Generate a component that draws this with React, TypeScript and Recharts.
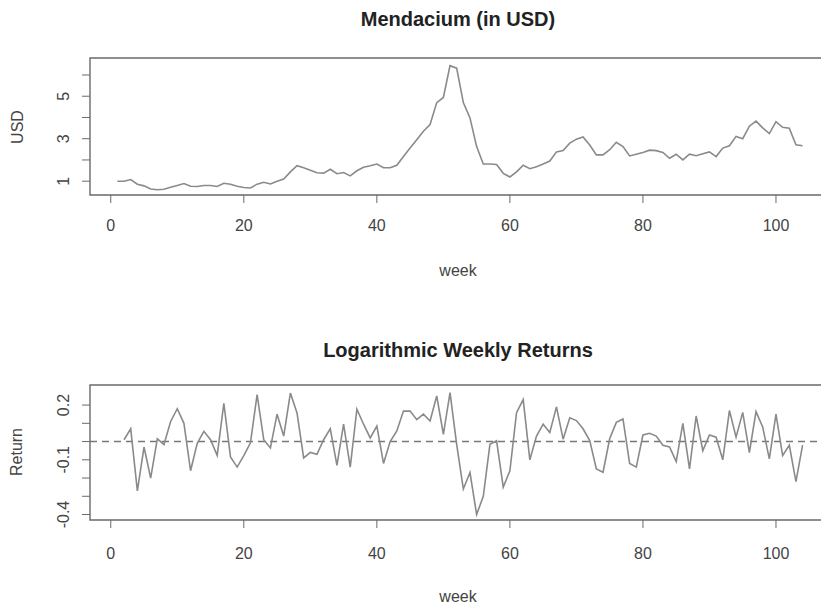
import React from "react";
import { LineChart, Line, XAxis, YAxis, ReferenceArea, ReferenceLine } from "recharts";

// weekly closing price in USD, weeks 1..104
const usd = [
  1.0, 1.0, 1.08, 0.86, 0.78, 0.63, 0.6, 0.62, 0.71, 0.8,
  0.89, 0.76, 0.75, 0.8, 0.8, 0.75, 0.9, 0.86, 0.76, 0.7,
  0.68, 0.86, 0.95, 0.87, 1.0, 1.1, 1.44, 1.73, 1.63, 1.52,
  1.4, 1.38, 1.56, 1.35, 1.41, 1.25, 1.49, 1.66, 1.73, 1.81,
  1.63, 1.63, 1.75, 2.16, 2.56, 2.95, 3.35, 3.67, 4.7, 4.94,
  6.44, 6.32, 4.7, 3.98, 2.63, 1.81, 1.81, 1.79, 1.37, 1.2,
  1.44, 1.75, 1.59, 1.68, 1.81, 1.95, 2.38, 2.44, 2.79, 2.98,
  3.08, 2.7, 2.24, 2.24, 2.48, 2.83, 2.63, 2.19, 2.27, 2.35,
  2.46, 2.44, 2.35, 2.08, 2.27, 2.0, 2.27, 2.2, 2.29, 2.38,
  2.16, 2.56, 2.67, 3.11, 3.0, 3.59, 3.83, 3.51, 3.24, 3.8,
  3.54, 3.49, 2.71, 2.67,
];

// log weekly returns, weeks 2..104
const returns = [
  0.01, 0.07, -0.27, -0.03, -0.2, 0.015, -0.016, 0.11, 0.18, 0.1,
  -0.16, -0.01, 0.056, 0.01, -0.076, 0.21, -0.084, -0.14, -0.077, -0.007,
  0.257, 0.01, -0.035, 0.15, 0.03, 0.266, 0.157, -0.09, -0.06, -0.07,
  0.01, 0.07, -0.13, 0.095, -0.14, 0.177, 0.095, 0.02, 0.085, -0.12,
  0.0, 0.058, 0.167, 0.167, 0.12, 0.15, 0.113, 0.25, 0.04, 0.268,
  -0.015, -0.26, -0.17, -0.4, -0.3, -0.015, 0.004, -0.25, -0.16, 0.158,
  0.23, -0.1, 0.03, 0.095, 0.05, 0.19, 0.013, 0.13, 0.115, 0.07,
  0.005, -0.15, -0.168, 0.015, 0.105, 0.124, -0.12, -0.14, 0.036, 0.045,
  0.03, -0.02, -0.03, -0.11, 0.1, -0.15, 0.14, -0.05, 0.036, 0.024,
  -0.1, 0.17, 0.024, 0.16, -0.06, 0.164, 0.08, -0.095, 0.15, -0.077,
  -0.02, -0.22, -0.02,
];

const weekTicks = [0, 20, 40, 60, 80, 100];
const usdTicks = [1, 2, 3, 4, 5, 6];
const usdLabels = ["1", "3", "5"];
const returnTicks = [0.2, 0.1, 0, -0.1, -0.2, -0.3, -0.4];
const returnLabels = ["0.2", "-0.1", "-0.4"];

const priceData = usd.map((v, i) => ({ week: i + 1, usd: v }));
const returnData = returns.map((v, i) => ({ week: i + 2, ret: v }));

const X_DOMAIN: [number, number] = [-3.12, 108.12];
const USD_DOMAIN: [number, number] = [0.35, 6.8];
const RET_DOMAIN: [number, number] = [-0.43, 0.31];

const FONT = "'Liberation Sans', Arial, sans-serif";
const LINE = "#8a8a8a";
const AXIS = "#6a6a6a";
const TEXT = "#444";

const XTick = (p: any, dy: number) => (
  <text x={p.x} y={p.y + dy} textAnchor="middle" fontSize={16} fill={TEXT} fontFamily={FONT}>
    {p.payload.value}
  </text>
);

const YTick = (p: any, fmt: (v: number) => string) => {
  const label = fmt(p.payload.value);
  if (!label) return <g />;
  const cx = p.x - 16;
  return (
    <text
      x={cx}
      y={p.y}
      transform={`rotate(-90 ${cx} ${p.y})`}
      textAnchor="middle"
      dominantBaseline="central"
      fontSize={16}
      fill={TEXT}
      fontFamily={FONT}
    >
      {label}
    </text>
  );
};

const fmtUsd = (v: number) => (usdLabels.includes(String(v)) ? String(v) : "");

const fmtReturn = (v: number) => {
  const s = (Math.round(v * 10) / 10).toFixed(1);
  return returnLabels.includes(s) ? s : "";
};

const Title = ({ top, children }: { top: number; children: React.ReactNode }) => (
  <div
    style={{
      position: "absolute",
      left: 0,
      width: 916,
      top,
      textAlign: "center",
      fontFamily: FONT,
      fontWeight: "bold",
      fontSize: 20,
      color: "#222",
    }}
  >
    {children}
  </div>
);

const AxisTitle = ({ x, y, rotate, children }: { x: number; y: number; rotate?: boolean; children: React.ReactNode }) => (
  <div
    style={{
      position: "absolute",
      left: x,
      top: y,
      transform: `translate(-50%, -50%)${rotate ? " rotate(-90deg)" : ""}`,
      fontFamily: FONT,
      fontSize: 16,
      color: TEXT,
      whiteSpace: "nowrap",
    }}
  >
    {children}
  </div>
);

export default function App() {
  return (
    <div
      style={{
        position: "absolute",
        left: 0,
        top: 0,
        width: 821,
        height: 609,
        overflow: "hidden",
        background: "#fff",
      }}
    >
      <Title top={8}>Mendacium (in USD)</Title>
      <div style={{ position: "absolute", left: 0, top: 0 }}>
        <LineChart width={850} height={300} data={priceData} margin={{ top: 58, right: 20, bottom: 0, left: 0 }}>
          <XAxis
            dataKey="week"
            type="number"
            domain={X_DOMAIN}
            ticks={weekTicks}
            interval={0}
            allowDataOverflow
            height={105}
            tickSize={8}
            tickMargin={2}
            axisLine={false}
            tickLine={{ stroke: AXIS }}
            tick={(p: any) => XTick(p, 26)}
          />
          <YAxis
            type="number"
            domain={USD_DOMAIN}
            ticks={usdTicks}
            interval={0}
            allowDataOverflow
            width={90}
            tickSize={8}
            tickMargin={2}
            axisLine={false}
            tickLine={{ stroke: AXIS }}
            tick={(p: any) => YTick(p, fmtUsd)}
          />
          <ReferenceArea
            x1={X_DOMAIN[0]}
            x2={X_DOMAIN[1]}
            y1={USD_DOMAIN[0]}
            y2={USD_DOMAIN[1]}
            fill="none"
            fillOpacity={0}
            stroke={AXIS}
            strokeWidth={1.4}
          />
          <Line dataKey="usd" type="linear" stroke={LINE} strokeWidth={1.6} dot={false} isAnimationActive={false} />
        </LineChart>
      </div>
      <AxisTitle x={458} y={271}>week</AxisTitle>
      <AxisTitle x={18} y={127} rotate>USD</AxisTitle>

      <Title top={339}>Logarithmic Weekly Returns</Title>
      <div style={{ position: "absolute", left: 0, top: 300 }}>
        <LineChart width={850} height={309} data={returnData} margin={{ top: 85, right: 20, bottom: 0, left: 0 }}>
          <XAxis
            dataKey="week"
            type="number"
            domain={X_DOMAIN}
            ticks={weekTicks}
            interval={0}
            allowDataOverflow
            height={89}
            tickSize={8}
            tickMargin={2}
            axisLine={false}
            tickLine={{ stroke: AXIS }}
            tick={(p: any) => XTick(p, 29)}
          />
          <YAxis
            type="number"
            domain={RET_DOMAIN}
            ticks={returnTicks}
            interval={0}
            allowDataOverflow
            width={90}
            tickSize={8}
            tickMargin={2}
            axisLine={false}
            tickLine={{ stroke: AXIS }}
            tick={(p: any) => YTick(p, fmtReturn)}
          />
          <ReferenceArea
            x1={X_DOMAIN[0]}
            x2={X_DOMAIN[1]}
            y1={RET_DOMAIN[0]}
            y2={RET_DOMAIN[1]}
            fill="none"
            fillOpacity={0}
            stroke={AXIS}
            strokeWidth={1.4}
          />
          <ReferenceLine y={0} stroke="#777" strokeWidth={1.4} strokeDasharray="7 5" />
          <Line dataKey="ret" type="linear" stroke={LINE} strokeWidth={1.6} dot={false} isAnimationActive={false} />
        </LineChart>
      </div>
      <AxisTitle x={458} y={597}>week</AxisTitle>
      <AxisTitle x={17} y={452} rotate>Return</AxisTitle>
    </div>
  );
}
